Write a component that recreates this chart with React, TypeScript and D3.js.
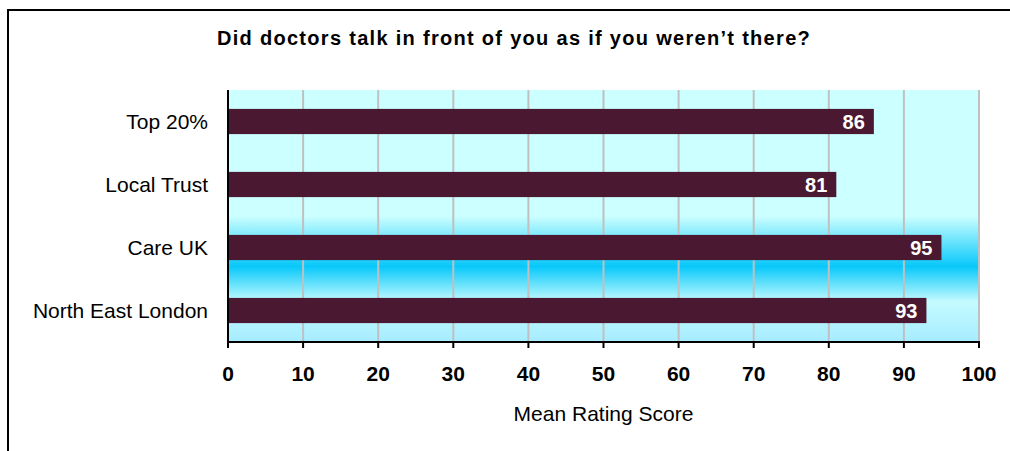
import { useEffect, useRef } from 'react';
import * as d3 from 'd3';

// chart data
const categories = ['Top 20%', 'Local Trust', 'Care UK', 'North East London'];
const scores = [86, 81, 95, 93];
const xTicks = [0, 10, 20, 30, 40, 50, 60, 70, 80, 90, 100];
const title = 'Did doctors talk in front of you as if you weren\u2019t there?';
const xTitle = 'Mean Rating Score';

const W = 1010;
const H = 451;
const FONT = '"Liberation Sans", Arial, sans-serif';

export default function App() {
  const svgRef = useRef<SVGSVGElement>(null);

  useEffect(() => {
    if (!svgRef.current) return;
    const svg = d3.select(svgRef.current);
    svg.selectAll('*').remove();

    const plot = { left: 228, right: 979, top: 90, bottom: 342 };

    const x = d3.scaleLinear().domain([0, 100]).range([plot.left, plot.right]);
    const y = d3.scaleBand<string>()
      .domain(categories)
      .range([plot.top, plot.bottom])
      .paddingInner(0.6)
      .paddingOuter(0.3);

    // background gradient for plot area
    const defs = svg.append('defs');
    const grad = defs.append('linearGradient')
      .attr('id', 'plotBg')
      .attr('x1', 0).attr('y1', 0).attr('x2', 0).attr('y2', 1);
    [
      [0, '#ccffff'],
      [0.5, '#ccffff'],
      [0.7, '#08c8fa'],
      [0.84, '#c4fbff'],
      [1, '#a6ecff'],
    ].forEach(([o, c]) => grad.append('stop').attr('offset', o as number).attr('stop-color', c as string));

    // outer frame
    svg.append('rect')
      .attr('x', 8).attr('y', 10)
      .attr('width', 1100).attr('height', 600)
      .attr('fill', 'white')
      .attr('stroke', '#000')
      .attr('stroke-width', 2);

    svg.append('text')
      .attr('x', 514).attr('y', 45)
      .attr('text-anchor', 'middle')
      .attr('font-family', FONT)
      .attr('font-weight', 'bold')
      .attr('font-size', 20)
      .attr('letter-spacing', 1.3)
      .text(title);

    svg.append('rect')
      .attr('x', plot.left).attr('y', plot.top)
      .attr('width', plot.right - plot.left)
      .attr('height', plot.bottom - plot.top)
      .attr('fill', 'url(#plotBg)');

    // gridlines
    svg.append('g')
      .selectAll('line')
      .data(xTicks.filter(t => t > 0))
      .enter()
      .append('line')
      .attr('x1', d => x(d)).attr('x2', d => x(d))
      .attr('y1', plot.top).attr('y2', plot.bottom)
      .attr('stroke', '#c0c0c0')
      .attr('stroke-width', 2);

    // bars
    svg.append('g')
      .selectAll('rect')
      .data(categories)
      .enter()
      .append('rect')
      .attr('x', x(0))
      .attr('y', d => y(d)!)
      .attr('width', (d, i) => x(scores[i]) - x(0))
      .attr('height', y.bandwidth())
      .attr('fill', '#4a1830');

    // value labels
    svg.append('g')
      .selectAll('text')
      .data(categories)
      .enter()
      .append('text')
      .attr('x', (d, i) => x(scores[i]) - 9)
      .attr('y', d => y(d)! + y.bandwidth() / 2 + 7)
      .attr('text-anchor', 'end')
      .attr('fill', '#fff')
      .attr('font-family', FONT)
      .attr('font-weight', 'bold')
      .attr('font-size', 20)
      .text((d, i) => scores[i]);

    // category labels
    svg.append('g')
      .selectAll('text')
      .data(categories)
      .enter()
      .append('text')
      .attr('x', 208)
      .attr('y', d => y(d)! + y.bandwidth() / 2 + 7.5)
      .attr('text-anchor', 'end')
      .attr('font-family', FONT)
      .attr('font-size', 21)
      .text(d => d);

    // axes lines
    svg.append('line')
      .attr('x1', plot.left).attr('x2', plot.left)
      .attr('y1', plot.top).attr('y2', plot.bottom)
      .attr('stroke', '#000').attr('stroke-width', 2);
    svg.append('line')
      .attr('x1', plot.left - 1).attr('x2', plot.right + 1)
      .attr('y1', plot.bottom).attr('y2', plot.bottom)
      .attr('stroke', '#000').attr('stroke-width', 2);

    // ticks + tick labels
    const tg = svg.append('g');
    tg.selectAll('line')
      .data(xTicks)
      .enter()
      .append('line')
      .attr('x1', d => x(d)).attr('x2', d => x(d))
      .attr('y1', plot.bottom).attr('y2', plot.bottom + 6)
      .attr('stroke', '#000').attr('stroke-width', 2);
    tg.selectAll('text')
      .data(xTicks)
      .enter()
      .append('text')
      .attr('x', d => x(d))
      .attr('y', 381)
      .attr('text-anchor', 'middle')
      .attr('font-family', FONT)
      .attr('font-weight', 'bold')
      .attr('font-size', 21)
      .text(d => d);

    svg.append('text')
      .attr('x', (plot.left + plot.right) / 2)
      .attr('y', 421)
      .attr('text-anchor', 'middle')
      .attr('font-family', FONT)
      .attr('font-size', 21)
      .text(xTitle);
  }, []);

  return (
    <svg
      ref={svgRef}
      width={W}
      height={H}
      style={{ position: 'absolute', left: 0, top: 0, display: 'block' }}
    />
  );
}
